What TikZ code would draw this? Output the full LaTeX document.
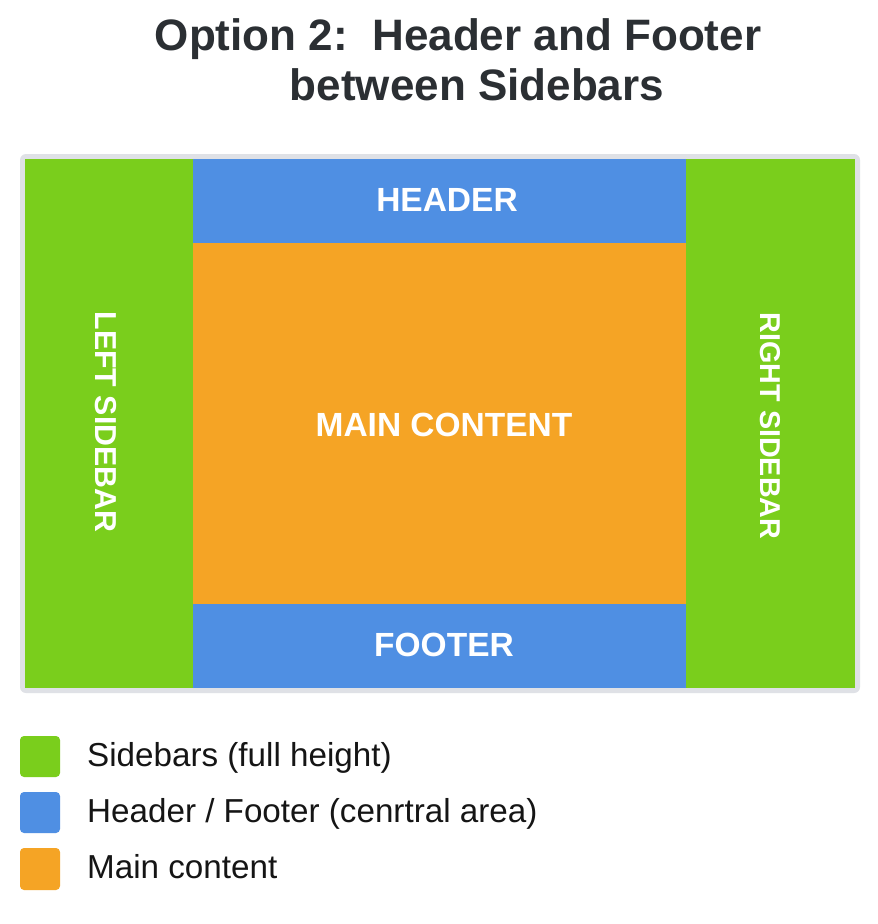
\documentclass[tikz,border=0pt]{standalone}
\usepackage{fontspec}
\setmainfont{Liberation Sans}
\definecolor{sidegreen}{HTML}{7ACE1C}
\definecolor{hfblue}{HTML}{4F8FE3}
\definecolor{mainorange}{HTML}{F5A425}
\definecolor{framegray}{HTML}{DFE1E6}
\definecolor{titlegray}{HTML}{2B2F33}
\definecolor{legendtext}{HTML}{151515}
\begin{document}
\begin{tikzpicture}[x=1pt,y=-1pt,
  titletext/.style={inner sep=0pt,anchor=base,text=titlegray,font=\fontsize{44}{52}\selectfont\bfseries},
  regionlabel/.style={inner sep=0pt,anchor=center,text=white,font=\fontsize{33.5}{40}\selectfont\bfseries},
  sidelabel/.style={inner sep=0pt,anchor=center,text=white,rotate=-90,font=\fontsize{29.5}{35}\selectfont\bfseries},
  legendbox/.style={rounded corners=4pt},
  legendlabel/.style={inner sep=0pt,anchor=base west,text=legendtext,font=\fontsize{33.2}{40}\selectfont}
]
\useasboundingbox (0,0) rectangle (878,924);
\fill[white] (0,0) rectangle (878,924);

% title
\node[titletext] (title1) at (458,50) {Option 2:\ \ Header and Footer};
\node[titletext] (title2) at (477,100) {between Sidebars};

% frame
\fill[framegray,rounded corners=6pt] (20,154) rectangle (860,693);

% regions
\fill[sidegreen] (25,159) rectangle (193,688);
\fill[sidegreen] (686,159) rectangle (855,688);
\fill[hfblue] (193,159) rectangle (686,243);
\fill[mainorange] (193,243) rectangle (686,604);
\fill[hfblue] (193,604) rectangle (686,688);

\node[regionlabel] (header) at (447,200) {HEADER};
\node[regionlabel] (main) at (444,424.5) {MAIN CONTENT};
\node[regionlabel] (footer) at (444,645) {FOOTER};
\node[sidelabel,font=\fontsize{30.3}{36}\selectfont\bfseries] (leftside) at (105.5,422) {LEFT SIDEBAR};
\node[sidelabel,font=\fontsize{28.7}{34}\selectfont\bfseries] (rightside) at (770,426) {RIGHT SIDEBAR};

% legend
\fill[sidegreen,legendbox] (20,736) rectangle (60,777);
\fill[hfblue,legendbox] (20,792) rectangle (60,833);
\fill[mainorange,legendbox] (20,848) rectangle (60,890);
\node[legendlabel] (leg1) at (87,766) {Sidebars (full height)};
\node[legendlabel] (leg2) at (87,822) {Header / Footer (cenrtral area)};
\node[legendlabel] (leg3) at (87,878) {Main content};
\end{tikzpicture}
\end{document}
